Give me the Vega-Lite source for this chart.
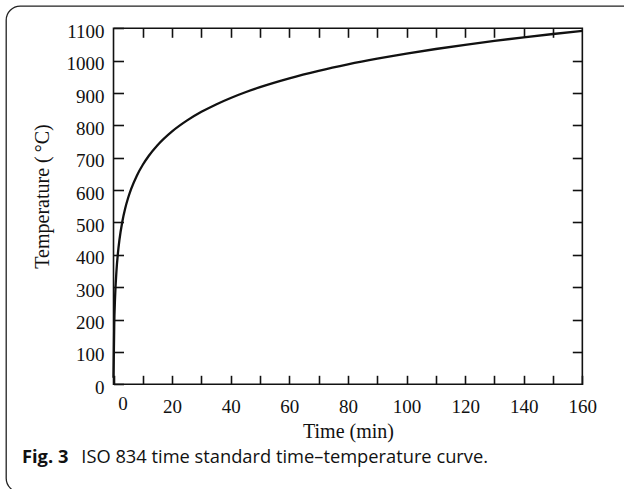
{
  "$schema": "https://vega.github.io/schema/vega-lite/v6.json",
  "autosize": "none",
  "padding": {"left": 6, "top": 6, "right": -82, "bottom": -3},
  "width": 700,
  "height": 486,
  "config": {
    "view": {"stroke": "#222", "strokeWidth": 1.3, "cornerRadius": 14},
    "axis": {
      "domain": false,
      "grid": false,
      "tickColor": "#111",
      "tickWidth": 1.6,
      "labelFont": "Liberation Serif",
      "labelFontSize": 19,
      "labelColor": "#111",
      "titleFont": "Liberation Serif",
      "titleFontSize": 20,
      "titleFontWeight": "normal",
      "titleColor": "#111"
    }
  },
  "layer": [
    {
      "data": {
        "values": [
          {"t": 0, "T": 20},
          {"t": 0.25, "T": 184.6},
          {"t": 0.5, "T": 261.1},
          {"t": 1, "T": 349.2},
          {"t": 1.5, "T": 404.3},
          {"t": 2, "T": 444.5},
          {"t": 3, "T": 502.3},
          {"t": 4, "T": 543.9},
          {"t": 5, "T": 576.4},
          {"t": 6, "T": 603.1},
          {"t": 8, "T": 645.5},
          {"t": 10, "T": 678.4},
          {"t": 12, "T": 705.4},
          {"t": 15, "T": 738.6},
          {"t": 20, "T": 781.4},
          {"t": 25, "T": 814.6},
          {"t": 30, "T": 841.8},
          {"t": 35, "T": 864.8},
          {"t": 40, "T": 884.7},
          {"t": 45, "T": 902.3},
          {"t": 50, "T": 918.1},
          {"t": 60, "T": 945.3},
          {"t": 70, "T": 968.4},
          {"t": 80, "T": 988.4},
          {"t": 90, "T": 1006.0},
          {"t": 100, "T": 1021.8},
          {"t": 110, "T": 1036.0},
          {"t": 120, "T": 1049.0},
          {"t": 130, "T": 1061.0},
          {"t": 140, "T": 1072.1},
          {"t": 150, "T": 1082.4},
          {"t": 160, "T": 1092.1}
        ]
      },
      "mark": {"type": "line", "strokeWidth": 2.3, "interpolate": "monotone"},
      "encoding": {
        "x": {
          "field": "t",
          "type": "quantitative",
          "scale": {"domain": [-36.69, 202.2], "nice": false, "zero": false},
          "axis": {
            "orient": "bottom",
            "offset": -107.7,
            "values": [0, 10, 20, 30, 40, 50, 60, 70, 80, 90, 100, 110, 120, 130, 140, 150, 160],
            "labelExpr": "datum.value % 20 === 0 ? datum.label : ''",
            "tickSize": -9,
            "labelPadding": {"condition": {"test": "datum.value === 0", "value": 19}, "value": 22},
            "labelOffset": {"condition": {"test": "datum.value === 0", "value": 9}, "value": 0},
            "labelFlush": false,
            "title": "Time (min)",
            "titleX": 342,
            "titleY": 53,
            "titleBaseline": "alphabetic",
            "titleAlign": "center"
          }
        },
        "y": {
          "field": "T",
          "type": "quantitative",
          "scale": {"domain": [-332.8, 1168.9], "nice": false, "zero": false},
          "axis": {
            "orient": "left",
            "offset": -107.5,
            "format": "d",
            "values": [0, 100, 200, 300, 400, 500, 600, 700, 800, 900, 1000, 1100],
            "tickSize": -10,
            "labelPadding": 19.5,
            "labelOffset": 3,
            "labelFlush": false,
            "title": "Temperature (\u2009°C)",
            "titleX": -65.5,
            "titleY": 190,
            "titleBaseline": "alphabetic",
            "titleAlign": "center",
            "titleAngle": -90
          }
        },
        "color": {
          "datum": "ISO 834 time standard time–temperature curve.",
          "scale": {"range": ["#111"]},
          "legend": {
            "orient": "none",
            "legendX": 16,
            "legendY": 443,
            "title": "Fig. 3",
            "titleOrient": "left",
            "titleFont": "Open Sans",
            "titleFontWeight": "bold",
            "titleFontSize": 18.3,
            "titleColor": "#111",
            "titlePadding": -6,
            "labelFont": "Open Sans",
            "labelFontSize": 18.3,
            "labelColor": "#111",
            "labelOffset": 0,
            "labelLimit": 600,
            "symbolSize": 0,
            "symbolStrokeWidth": 0,
            "symbolOpacity": 0
          }
        }
      }
    },
    {
      "data": {"values": [{}]},
      "mark": {"type": "rect", "fillOpacity": 0, "stroke": "#111", "strokeWidth": 1.6},
      "encoding": {
        "x": {
          "datum": 0,
          "type": "quantitative",
          "axis": {
            "orient": "top",
            "offset": -22.3,
            "values": [10, 20, 30, 40, 50, 60, 70, 80, 90, 100, 110, 120, 130, 140, 150],
            "tickSize": -9,
            "labels": false,
            "title": null
          }
        },
        "x2": {"datum": 160},
        "y": {
          "datum": 0,
          "type": "quantitative",
          "axis": {
            "orient": "right",
            "offset": -123.7,
            "values": [100, 200, 300, 400, 500, 600, 700, 800, 900, 1000],
            "tickSize": -10,
            "labels": false,
            "title": null
          }
        },
        "y2": {"datum": 1100}
      }
    }
  ],
  "resolve": {"axis": {"x": "independent", "y": "independent"}}
}
